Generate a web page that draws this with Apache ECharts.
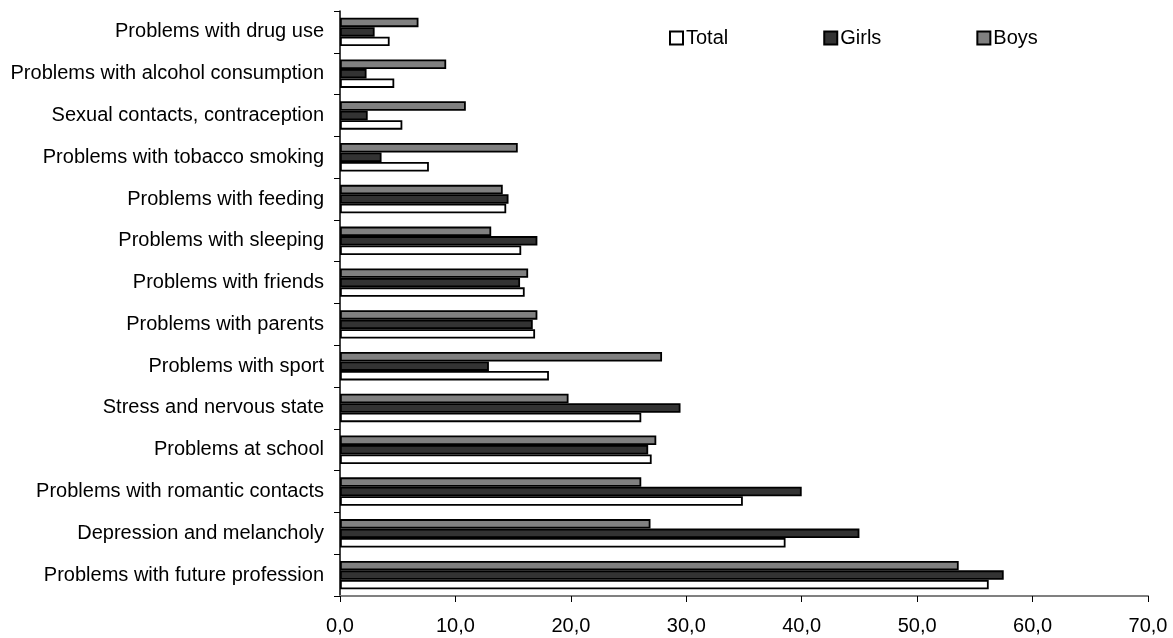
<!DOCTYPE html>
<html>
<head>
<meta charset="utf-8">
<script src="https://cdn.jsdelivr.net/npm/echarts@6/dist/echarts.min.js"></script>
<style>
  html, body { margin: 0; padding: 0; background: #fff; }
  #chart { width: 1173px; height: 638px; }
</style>
</head>
<body>
<div id="chart"></div>
<script>
// Categories listed from the bottom of the axis to the top
const categories = [
  'Problems with future profession',
  'Depression and melancholy',
  'Problems with romantic contacts',
  'Problems at school',
  'Stress and nervous state',
  'Problems with sport',
  'Problems with parents',
  'Problems with friends',
  'Problems with sleeping',
  'Problems with feeding',
  'Problems with tobacco smoking',
  'Sexual contacts, contraception',
  'Problems with alcohol consumption',
  'Problems with drug use'
];

const totalValues = [56.2, 38.6, 34.9, 27.0, 26.1, 18.1, 16.9, 16.0, 15.7, 14.4, 7.7, 5.4, 4.7, 4.3];
const girlsValues = [57.5, 45.0, 40.0, 26.7, 29.5, 12.9, 16.7, 15.6, 17.1, 14.6, 3.6, 2.4, 2.3, 3.0];
const boysValues  = [53.6, 26.9, 26.1, 27.4, 19.8, 27.9, 17.1, 16.3, 13.1, 14.1, 15.4, 10.9, 9.2, 6.8];

const seriesNames = ['Total', 'Girls', 'Boys'];
const xTicks = { min: 0, max: 70, step: 10 };

const fontFamily = '"Liberation Sans", Arial, Helvetica, sans-serif';

function barSeries(name, values, fill) {
  return {
    name: name,
    type: 'bar',
    data: values,
    barGap: '0%',
    barCategoryGap: '32%',
    itemStyle: { color: fill, borderColor: '#000', borderWidth: 1.8 },
    emphasis: { disabled: true }
  };
}

const chart = echarts.init(document.getElementById('chart'));
chart.setOption({
  animation: false,
  backgroundColor: '#ffffff',
  textStyle: { fontFamily: fontFamily, color: '#000' },
  legend: {
    data: seriesNames,
    left: 669,
    top: 28,
    padding: 0,
    itemWidth: 13,
    itemHeight: 13,
    itemGap: 95,
    icon: 'rect',
    textStyle: { fontSize: 20, color: '#000', fontFamily: fontFamily, padding: [0, 0, 0, -2] }
  },
  grid: { left: 340, right: 25, top: 11, bottom: 42 },
  xAxis: {
    type: 'value',
    min: xTicks.min,
    max: xTicks.max,
    interval: xTicks.step,
    axisLine: { show: true, lineStyle: { color: '#808080', width: 2 } },
    axisTick: { show: true, length: 6, lineStyle: { color: '#000', width: 1 } },
    splitLine: { show: false },
    axisLabel: {
      fontSize: 20,
      color: '#000',
      margin: 20,
      formatter: v => v.toFixed(1).replace('.', ',')
    }
  },
  yAxis: {
    type: 'category',
    data: categories,
    axisLine: { show: true, lineStyle: { color: '#000', width: 1.5 } },
    axisTick: { show: true, length: 6, lineStyle: { color: '#000', width: 1 } },
    axisLabel: { fontSize: 20, color: '#000', margin: 16 }
  },
  // Within each category the first series sits on top: Boys, Girls, Total
  series: [
    barSeries(seriesNames[2], boysValues, '#808080'),
    barSeries(seriesNames[1], girlsValues, '#333333'),
    barSeries(seriesNames[0], totalValues, '#ffffff')
  ]
});
</script>
</body>
</html>
